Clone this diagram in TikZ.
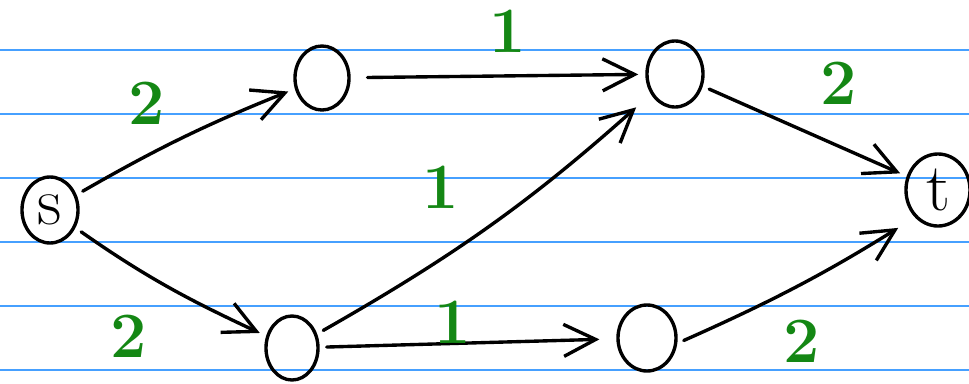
\documentclass[tikz,border=0pt]{standalone}
\usepackage{fontspec}
\usepackage{tikz}
\usetikzlibrary{arrows.meta,shapes.geometric,positioning}
\definecolor{RuleBlue}{RGB}{70,160,255}
\definecolor{WeightGreen}{RGB}{20,135,20}
\tikzset{
  vertex/.style={draw,ellipse,line width=2.4pt,inner sep=0pt,
                 minimum width=1.4cm,minimum height=1.65cm,
                 font=\fontsize{48}{52}\selectfont},
  flow/.style={-{Straight Barb[length=8mm,width=8mm,line width=2.4pt]},
               line width=2.4pt,line cap=round,shorten <=5pt,shorten >=5pt},
  weight/.style={text=WeightGreen,font=\fontsize{46}{50}\selectfont\bfseries}
}

\begin{document}
\begin{tikzpicture}[x=0.025cm,y=-0.025cm]
\useasboundingbox (0,0) rectangle (969,383);
% ruled paper
\foreach \y in {50,114,178,242,306,370}
  \draw[RuleBlue,line width=0.8pt] (0,\y) -- (969,\y);
% vertices
\node[vertex] (s) at (50,210) {s};
\node[vertex,minimum width=1.35cm,minimum height=1.6cm] (a) at (322,78) {};
\node[vertex,minimum width=1.4cm,minimum height=1.65cm] (b) at (675,74) {};
\node[vertex,minimum width=1.3cm,minimum height=1.6cm] (c) at (292,348) {};
\node[vertex,minimum width=1.45cm,minimum height=1.65cm] (d) at (647,338) {};
\node[vertex,minimum width=1.6cm,minimum height=1.8cm] (t) at (938,190) {t};
% edges with capacities
\draw[flow] (s) to[bend left=4] node[weight,xshift=-26pt,yshift=24pt] {2} (a);
\draw[flow] (s) to[out=-35,in=155] node[weight,xshift=-28pt,yshift=-35pt] {2} (c);
\draw[flow,shorten <=12pt] (a) -- node[weight,xshift=7pt,yshift=32pt] {1} (b);
\draw[flow,shorten >=14pt] (c) to[bend right=6] node[weight,xshift=-36pt,yshift=26pt] {1} (b.-140);
\draw[flow,shorten >=12pt] (c) -- node[weight,xshift=-11pt,yshift=15pt] {1} (d);
\draw[flow] (b) -- node[weight,xshift=24pt,yshift=34pt] {2} (t);
\draw[flow,shorten >=14pt] (d.-10) to[bend right=4] node[weight,xshift=2pt,yshift=-40pt] {2} (t.-130);
\end{tikzpicture}
\end{document}
